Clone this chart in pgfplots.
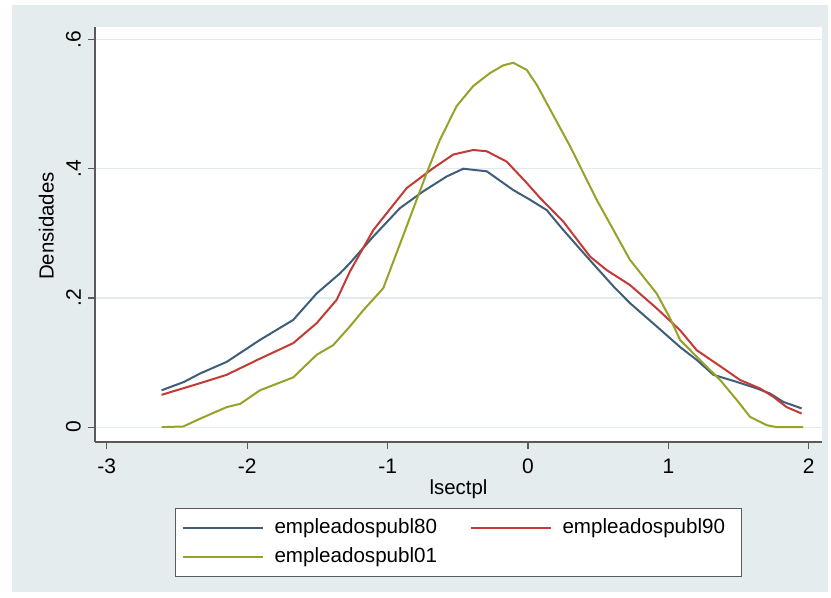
\documentclass[border=0pt]{standalone}
\usepackage{pgfplots}
\pgfplotsset{compat=1.18}
\usepackage{fontspec}
\setmainfont{Liberation Sans}
\definecolor{bgcol}{RGB}{229,236,238}
\definecolor{gridcol}{RGB}{226,234,237}
\definecolor{c80}{RGB}{62,94,122}
\definecolor{c90}{RGB}{196,58,52}
\definecolor{c01}{RGB}{152,162,40}
\definecolor{axcol}{RGB}{90,90,90}
\begin{document}
\begin{tikzpicture}
\useasboundingbox (0,0) rectangle (415.5pt,299pt);
\fill[bgcol] (6pt,3pt) rectangle (414pt,296.5pt);
\begin{axis}[
  at={(47.5pt,78pt)}, anchor=south west,
  scale only axis, width=363.5pt, height=207.7pt,
  xmin=-3.084, xmax=2.094, ymin=-0.023, ymax=0.62,
  axis background/.style={fill=white},
  axis x line*=bottom, axis y line*=left,
  axis line style={axcol, line width=0.6pt, -},
  xtick={-3,-2,-1,0,1,2}, xticklabels={-3,-2,-1,0,1,2},
  ytick={0,0.2,0.4,0.6}, yticklabels={0,.2,.4,.6},
  tick align=outside, major tick length=3.5pt,
  tick style={axcol, line width=0.6pt},
  ymajorgrids, grid style={gridcol, line width=0.6pt},
  yticklabel style={rotate=90, anchor=south, font=\fontsize{10.5}{12}\selectfont},
  xticklabel style={font=\fontsize{10.5}{12}\selectfont, yshift=-1.5pt},
  xlabel={lsectpl}, ylabel={Densidades},
  label style={font=\fontsize{10.2}{12}\selectfont},
  xlabel style={at={(axis description cs:0.5,0)}, yshift=-15.5pt, anchor=north},
  ylabel style={at={(axis description cs:-0.047,0.52)}, anchor=south},
  legend columns=2,
  legend cell align=left,
  legend style={at={(axis description cs:0.5,-0.159)}, anchor=north,
    draw=axcol, line width=0.5pt, fill=white, inner xsep=3pt, inner ysep=2.5pt,
    font=\fontsize{10.3}{12}\selectfont,
    nodes={text height=7.5pt, text depth=2pt, inner ysep=2.5pt},
    /tikz/every even column/.append style={column sep=11pt}},
  legend image code/.code={\draw[#1] (0pt,0pt) -- (40pt,0pt);},
  every axis plot/.append style={line width=1pt},
]
\addplot[c80] coordinates {
(-2.61,0.057) (-2.45,0.070) (-2.336,0.083) (-2.146,0.101) (-1.909,0.135)
(-1.672,0.166) (-1.505,0.207) (-1.339,0.238) (-1.268,0.254) (-1.102,0.295)
(-0.912,0.339) (-0.746,0.365) (-0.579,0.388) (-0.461,0.400) (-0.294,0.396)
(-0.105,0.367) (0.014,0.352) (0.133,0.336) (0.252,0.305) (0.418,0.264)
(0.608,0.218) (0.726,0.192) (0.916,0.156) (1.083,0.124) (1.202,0.104)
(1.32,0.081) (1.487,0.070) (1.629,0.060) (1.724,0.052) (1.819,0.039) (1.949,0.029)
};
\addlegendentry{\makebox[88pt][l]{\hspace{3.5pt}empleadospubl80}}
\addplot[c90] coordinates {
(-2.61,0.050) (-2.336,0.068) (-2.146,0.081) (-1.909,0.106) (-1.672,0.130)
(-1.505,0.161) (-1.363,0.197) (-1.268,0.241) (-1.102,0.305) (-0.864,0.370)
(-0.674,0.401) (-0.532,0.422) (-0.390,0.429) (-0.294,0.427) (-0.152,0.411)
(-0.009,0.378) (0.085,0.355) (0.252,0.318) (0.442,0.264) (0.561,0.243)
(0.726,0.220) (0.916,0.184) (1.083,0.150) (1.202,0.119) (1.391,0.091)
(1.51,0.073) (1.652,0.060) (1.747,0.047) (1.842,0.031) (1.949,0.021)
};
\addlegendentry{\makebox[88pt][l]{\hspace{3.5pt}empleadospubl90}}
\addplot[c01] coordinates {
(-2.61,0.0) (-2.455,0.001) (-2.336,0.013) (-2.146,0.031) (-2.05,0.036)
(-1.909,0.057) (-1.672,0.077) (-1.505,0.112) (-1.387,0.127) (-1.268,0.156)
(-1.173,0.181) (-1.031,0.215) (-0.864,0.311) (-0.722,0.393) (-0.627,0.445)
(-0.508,0.497) (-0.390,0.528) (-0.271,0.548) (-0.176,0.560) (-0.105,0.564)
(-0.009,0.553) (0.062,0.530) (0.299,0.435) (0.489,0.352) (0.726,0.259)
(0.916,0.207) (1.011,0.169) (1.083,0.135) (1.202,0.109) (1.368,0.073)
(1.487,0.042) (1.581,0.016) (1.700,0.003) (1.771,0.0) (1.96,0.0)
};
\addlegendentry{\makebox[88pt][l]{\hspace{3.5pt}empleadospubl01}}
\end{axis}
\end{tikzpicture}
\end{document}
